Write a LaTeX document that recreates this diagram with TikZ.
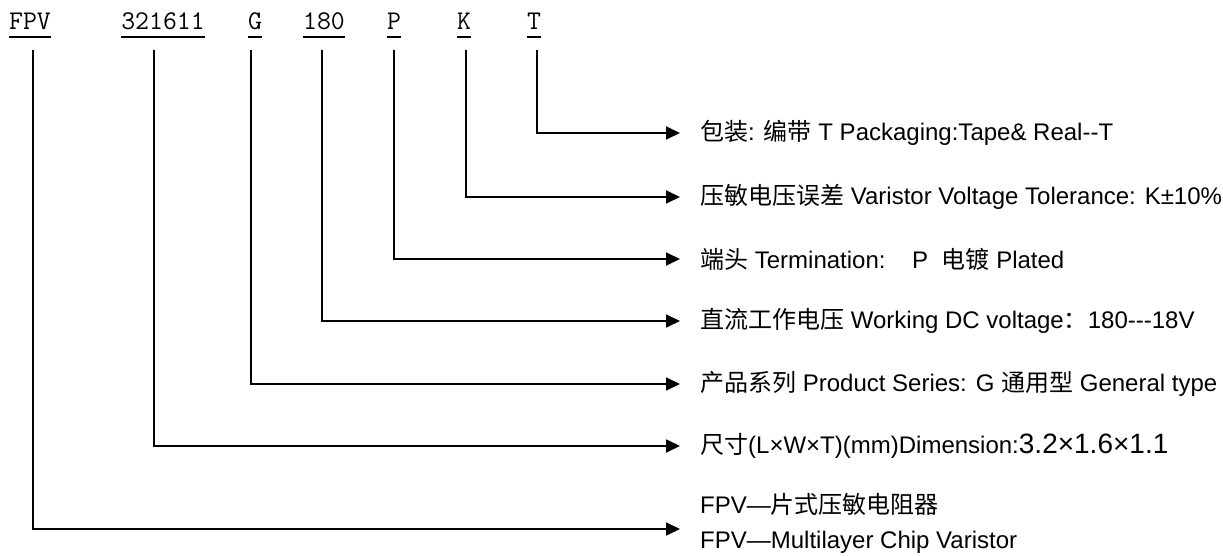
\documentclass[tikz,border=0pt]{standalone}
\usepackage{fontspec}
\setmainfont{Liberation Sans}
\newfontfamily\cjk{Noto Sans CJK SC}
\usetikzlibrary{arrows.meta, positioning}
\newcommand{\zh}[1]{{\cjk #1}}
\newcommand{\hy}{\hbox{-}}

\begin{document}
\begin{tikzpicture}[
      x=1pt, y=-1pt,
      >={Triangle[length=14pt, width=13pt]},
      code/.style={font=\ttfamily\fontsize{27}{27}\selectfont, inner sep=0pt, anchor=base},
      uline/.style={line width=1.8pt},
      conn/.style={->, line width=1.8pt},
      lbl/.style={anchor=west, inner xsep=20pt, inner ysep=0pt,
                  font=\fontsize{24}{35}\selectfont, align=left}
    ]
      \useasboundingbox (0,0) rectangle (1223,556);
      % part number fields
      \node[code] (fpv)  at (30,30)  {FPV};
      \node[code] (size) at (163,30) {321611};
      \node[code] (ser)  at (255,30) {G};
      \node[code] (volt) at (324,30) {180};
      \node[code] (term) at (394,30) {P};
      \node[code] (tol)  at (464,30) {K};
      \node[code] (pack) at (534,30) {T};
      \foreach \f in {fpv, size, ser, volt, term, tol, pack}
        \draw[uline] ([yshift=-7pt]\f.base west) -- ([yshift=-7pt]\f.base east);
      % line starts below the fields
      \coordinate (fpvtop)  at (33,50);
      \coordinate (sizetop) at (154,50);
      \coordinate (sertop)  at (251,50);
      \coordinate (volttop) at (322,50);
      \coordinate (termtop) at (394,50);
      \coordinate (toltop)  at (466,50);
      \coordinate (packtop) at (537,50);
      % descriptions
      \node[lbl] (dpack) at (680,133) {\zh{包装}: \zh{编带} T Packaging:Tape\& Real\hy\hy T};
      \node[lbl] (dtol)  at (680,197) {\zh{压敏电压误差} Varistor Voltage Tolerance: K±10\%};
      \node[lbl] (dterm) at (680,259) {\zh{端头} Termination:\ \ \ \ P\ \ \zh{电镀} Plated};
      \node[lbl] (dvolt) at (680,321) {\zh{直流工作电压} Working DC voltage\zh{：}180\hy\hy\hy 18V};
      \node[lbl] (dser)  at (680,384) {\zh{产品系列} Product Series: G \zh{通用型} General type};
      \node[lbl] (dsize) at (680,446) {\zh{尺寸}(L×W×T)(mm)Dimension:{\fontsize{28}{28}\selectfont 3.2×1.6×1.1}};
      \node[lbl] (dfpv)  at (680,523) {FPV—\zh{片式压敏电阻器}\\FPV—Multilayer Chip Varistor};
      % connectors
      \draw[conn] (packtop) |- (dpack.west);
      \draw[conn] (toltop)  |- (dtol.west);
      \draw[conn] (termtop) |- (dterm.west);
      \draw[conn] (volttop) |- (dvolt.west);
      \draw[conn] (sertop)  |- (dser.west);
      \draw[conn] (sizetop) |- (dsize.west);
      \draw[conn] (fpvtop)  |- ([yshift=-6pt]dfpv.west);
    \end{tikzpicture}
\end{document}
